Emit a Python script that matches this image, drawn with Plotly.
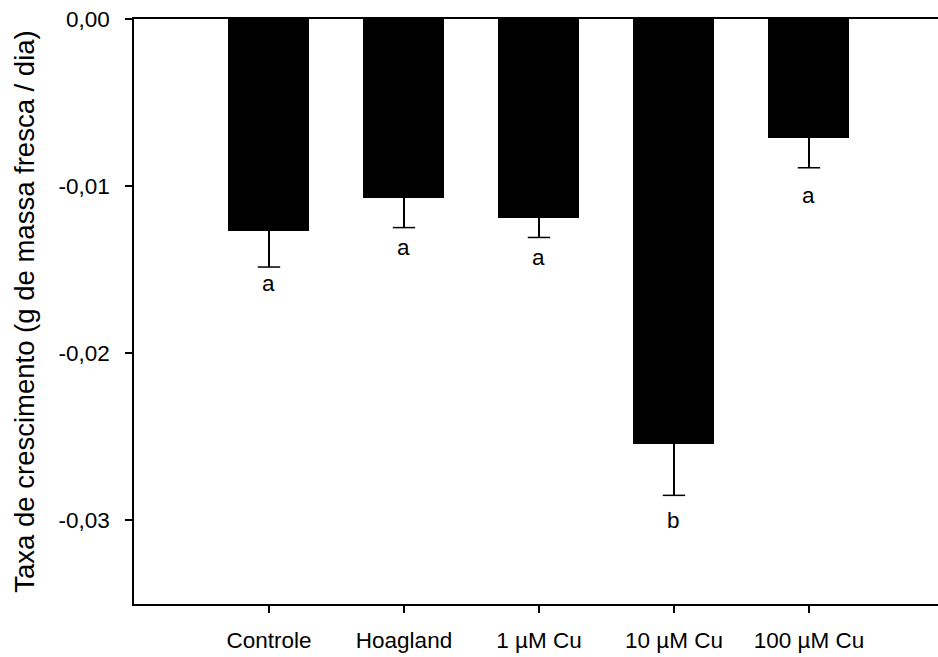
import plotly.graph_objects as go

categories = ["Controle", "Hoagland", "1 µM Cu", "10 µM Cu", "100 µM Cu"]
positions = [1, 2, 3, 4, 5]
means = [-0.01269, -0.01068, -0.01193, -0.02541, -0.00710]
errors = [0.00215, 0.00180, 0.00114, 0.00309, 0.00180]
letters = ["a", "a", "a", "b", "a"]
letter_y = [-0.01582, -0.01367, -0.01426, -0.03000, -0.01056]

y_ticks = [0.0, -0.01, -0.02, -0.03]
y_tick_text = ["0,00", "-0,01", "-0,02", "-0,03"]

FONT = "Liberation Sans, Arial, sans-serif"

fig = go.Figure()
fig.add_trace(go.Bar(
    x=positions, y=means, width=0.6,
    marker=dict(color="black", line=dict(width=0)),
    error_y=dict(type="data", symmetric=False, array=[0] * len(errors),
                 arrayminus=errors, color="black", thickness=1.5, width=0),
    showlegend=False,
))
# bottom caps of the one-sided error bars
fig.add_trace(go.Scatter(
    x=positions, y=[m - e for m, e in zip(means, errors)], mode="markers",
    marker=dict(symbol="line-ew", size=16, color="black",
                line=dict(color="black", width=1.5)),
    showlegend=False, hoverinfo="skip",
))

for xp, yv, t in zip(positions, letter_y, letters):
    fig.add_annotation(x=xp, y=yv, text=t, showarrow=False, yanchor="middle",
                       font=dict(family=FONT, size=22.5, color="black"))

fig.update_layout(
    width=938, height=657,
    margin=dict(l=134, r=0, t=19, b=53),
    paper_bgcolor="white", plot_bgcolor="white",
    font=dict(family=FONT, size=22.5, color="black"),
    bargap=0,
)
fig.update_xaxes(
    range=[0, 5.956], tickmode="array", tickvals=positions, ticktext=categories,
    showline=True, linecolor="black", linewidth=1.5, mirror=True,
    ticks="outside", ticklen=7, tickwidth=1.5, tickcolor="black",
    showgrid=False, zeroline=False, ticklabelstandoff=8,
    tickfont=dict(family=FONT, size=22.5),
)
fig.update_yaxes(
    range=[-0.035, 0], tickmode="array", tickvals=y_ticks, ticktext=y_tick_text,
    showline=True, linecolor="black", linewidth=1.5,
    ticks="outside", ticklen=7, tickwidth=1.5, tickcolor="black",
    showgrid=False, zeroline=False, ticklabelstandoff=11,
    tickfont=dict(family=FONT, size=22.5),
    title=dict(text="Taxa de crescimento (g de massa fresca / dia)",
               font=dict(family=FONT, size=27.5), standoff=16),
)

fig.write_html("out.html")
